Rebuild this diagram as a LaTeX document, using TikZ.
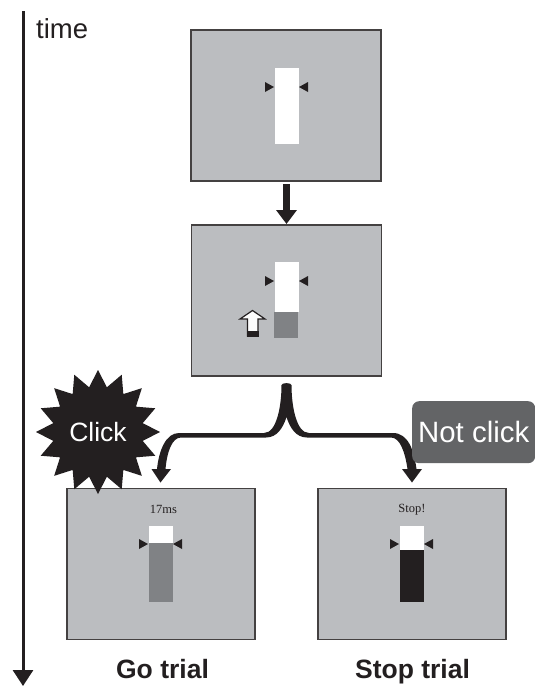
\documentclass[tikz,border=0pt]{standalone}
\usepackage{fontspec}
\setmainfont{Liberation Sans}
\newfontfamily\serifface{Liberation Serif}
\usetikzlibrary{arrows.meta,shapes.geometric}
\definecolor{screen}{HTML}{BBBDC0}
\definecolor{ink}{HTML}{231F20}
\definecolor{barg}{HTML}{808285}
\definecolor{tagg}{HTML}{636466}
\tikzset{
  x=1pt,y=-1pt,
  screenbox/.style={draw=ink!85,line width=1.2pt,fill=screen,inner sep=0pt,outer sep=0pt,minimum width=#1,minimum height=151pt,anchor=north west},
  fix/.style={fill=ink,draw=none},
  bigarrow/.style={ink,-{Triangle[length=14pt,width=20pt]},shorten >=1pt},
  caption/.style={font=\fontsize{26.5}{27}\selectfont\bfseries,text=ink,inner sep=0pt},
  stim/.style={font=\serifface\fontsize{12.5}{13}\selectfont,text=ink,inner sep=0pt}
}
\newcommand{\fixation}[2]{%
  \fill[fix] (#1-10,#2-5) -- (#1-1,#2) -- (#1-10,#2+5) -- cycle;
  \fill[fix] (#1+33,#2-5) -- (#1+24,#2) -- (#1+33,#2+5) -- cycle;}
\begin{document}
\begin{tikzpicture}
\useasboundingbox (0,0) rectangle (535,686);
\fill[white] (0,0) rectangle (535,686);
% time axis
\coordinate (t0) at (23,11);
\coordinate (t1) at (23,686);
\draw[ink,line width=3pt,-{Triangle[length=16pt,width=20pt]}] (t0) -- (t1);
\node[anchor=base west,inner sep=0pt,text=ink,font=\fontsize{27.5}{28}\selectfont] (time) at (36,38) {time};
% screens
\node[screenbox=190pt] (s1) at (191,30) {};
\node[screenbox=190pt] (s2) at (191.5,225) {};
\node[screenbox=188pt] (s3) at (67,488.5) {};
\node[screenbox=188pt] (s4) at (318,488.5) {};
% screen 1
\fill[white] (275,68) rectangle (299,144);
\fixation{275}{87}
% screen 2
\fill[white] (275,262) rectangle (299,312);
\fill[barg] (274,312) rectangle (298,338);
\fixation{275}{281}
\draw[ink,line width=1.2pt,fill=white!95!screen,line join=miter]
  (252.5,310.5) -- (265,319) -- (258,319) -- (258,336) -- (247.5,336) -- (247.5,319) -- (240,319) -- cycle;
\fill[ink] (247,331) rectangle (258.5,336.5);
% screen 3
\fill[white] (149,526) rectangle (173,543);
\fill[barg] (149,543) rectangle (173,602);
\fixation{149}{544}
\node[stim] (l17) at (163.5,509.5) {17ms};
% screen 4
\fill[white] (400,526) rectangle (424,550);
\fill[ink] (400,550) rectangle (424,602);
\fixation{400}{544}
\node[stim] (lstop) at (412,509.5) {Stop!};
% arrows
\draw[bigarrow,line width=7pt] (286.5,184) -- (s2.north -| 286.5,219);
% fork
\fill[ink]
  (281.5,385) .. controls (281.5,382.5) and (291.5,382.5) .. (291.5,385)
  .. controls (291.5,405) and (296,433) .. (309,433)
  -- (393,433)
  .. controls (408,433) and (414,450) .. (416.5,469)
  -- (422,469) -- (412,482.5) -- (402,469) -- (407.5,469)
  .. controls (405,452) and (400,437.5) .. (391,437.5)
  -- (307,437.5)
  .. controls (296,437.5) and (290,428) .. (286.5,417)
  .. controls (283,428) and (277,437.5) .. (266,437.5)
  -- (181,437.5)
  .. controls (172,437.5) and (167,452) .. (165.5,469)
  -- (171,469) -- (160.5,482.5) -- (151.5,469) -- (157,469)
  .. controls (159,450) and (166,433) .. (179,433)
  -- (264,433)
  .. controls (277,433) and (281.5,405) .. (281.5,385) -- cycle;
% tags
\node[star,star points=16,star point ratio=1.36,fill=ink,draw=none,minimum size=124pt,inner sep=0pt,text=white,font=\fontsize{26.5}{27}\selectfont] (click) at (98,432) {Click};
\node[fill=tagg,rounded corners=7pt,minimum width=123pt,minimum height=62pt,inner sep=0pt,anchor=north west,text=white,font=\fontsize{29.4}{30}\selectfont] (notclick) at (412,401) {Not click};
% captions
\node[caption,anchor=base] (go) at (162.5,678) {Go trial};
\node[caption,anchor=base] (stop) at (412.5,678) {Stop trial};
\end{tikzpicture}
\end{document}
